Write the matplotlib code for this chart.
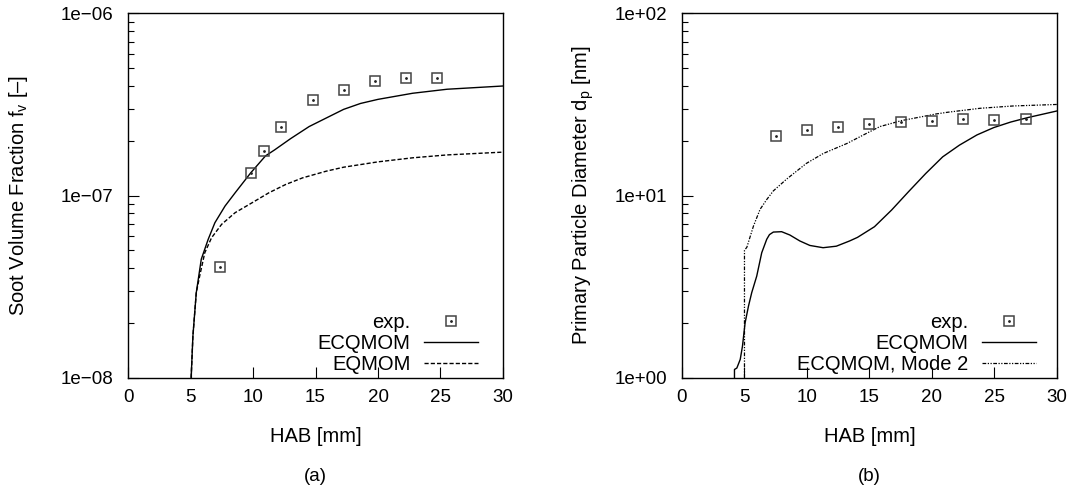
import matplotlib
matplotlib.use('Agg')
import matplotlib.pyplot as plt
from matplotlib.ticker import LogLocator, NullFormatter

plt.rcParams['font.family'] = ['Liberation Sans', 'DejaVu Sans']
plt.rcParams['mathtext.fontset'] = 'custom'
plt.rcParams['mathtext.rm'] = 'Liberation Sans'
plt.rcParams['mathtext.it'] = 'Liberation Sans'

# (a) soot volume fraction
exp_a_x = [7.37, 9.85, 10.87, 12.25, 14.79, 17.25, 19.76, 22.27, 24.76]
exp_a_y = [4.07e-8, 1.33e-7, 1.75e-7, 2.39e-7, 3.34e-7, 3.78e-7, 4.25e-7, 4.42e-7, 4.40e-7]

ecq_a_x = [5.05, 5.19, 5.46, 5.86, 6.41, 6.95, 7.76, 8.57, 9.81, 11.0, 11.73, 13.0, 14.49, 15.8, 17.25,
           18.6, 20.0, 22.77, 25.53, 30.0]
ecq_a_y = [1.0e-8, 1.69e-8, 2.93e-8, 4.47e-8, 5.74e-8, 7.09e-8, 8.75e-8, 1.035e-7, 1.33e-7, 1.65e-7, 1.78e-7,
           2.05e-7, 2.39e-7, 2.65e-7, 2.97e-7, 3.2e-7, 3.37e-7, 3.64e-7, 3.83e-7, 3.99e-7]

eq_a_x = [5.05, 5.19, 5.46, 5.73, 6.14, 6.68, 7.49, 8.57, 9.92, 11.27, 12.62, 13.97, 15.86, 17.25, 20.0,
          22.77, 25.53, 30.0]
eq_a_y = [1.0e-8, 1.69e-8, 2.93e-8, 3.61e-8, 4.85e-8, 5.86e-8, 6.95e-8, 8.05e-8, 9.12e-8, 1.035e-7, 1.15e-7,
          1.25e-7, 1.36e-7, 1.43e-7, 1.53e-7, 1.61e-7, 1.67e-7, 1.73e-7]

# (b) primary particle diameter
exp_b_x = [7.5, 10, 12.5, 15, 17.5, 20, 22.5, 25, 27.5]
exp_b_y = [21.3, 23.0, 23.7, 24.7, 25.4, 25.5, 26.3, 25.9, 26.4]

ecq_b_x = [4.2, 4.2, 4.39, 4.66, 4.84, 5.05, 5.32, 5.58, 5.98, 6.38, 6.78, 7.0, 7.31, 7.97, 8.63, 9.43,
           10.23, 11.29, 12.35, 13.41, 14.04, 15.4, 16.77, 18.13, 19.5, 20.86, 22.2, 23.6, 24.95, 26.3,
           27.7, 30.0]
ecq_b_y = [1.0, 1.11, 1.13, 1.26, 1.49, 2.0, 2.47, 2.93, 3.61, 4.85, 5.75, 6.1, 6.3, 6.33, 6.07, 5.63,
           5.32, 5.17, 5.27, 5.63, 5.89, 6.74, 8.32, 10.5, 13.2, 16.3, 18.9, 21.5, 23.6, 25.3,
           26.8, 29.1]

mode2_b_x = [5.0, 5.0, 5.19, 5.72, 6.25, 6.78, 7.31, 8.37, 9.95, 11.3, 13.2, 14.86, 15.84, 17.6, 18.5,
             20.3, 21.2, 23.84, 26.5, 30.0]
mode2_b_y = [1.0, 5.0, 5.2, 6.8, 8.4, 9.5, 10.6, 12.3, 15.0, 17.0, 19.3, 22.1, 23.9, 25.8, 26.5,
             28.0, 28.6, 30.1, 31.0, 31.6]

fig = plt.figure(figsize=(10.75, 4.94), dpi=100)
ax1 = fig.add_axes([0.1191, 0.2354, 0.3488, 0.7377])
ax2 = fig.add_axes([0.6344, 0.2354, 0.3488, 0.7377])

mk = dict(marker='s', ms=7, mfc='none', mec='#444444', mew=1.1, ls='none')
dot = dict(marker='.', ms=2.0, color='#222222', ls='none')


def style(ax, ylim, yticks, ylabels, ylabel, tag, ylab_x):
    ax.set_yscale('log')
    ax.set_xlim(0, 30)
    ax.set_ylim(*ylim)
    ax.set_xticks([0, 5, 10, 15, 20, 25, 30])
    ax.set_yticks(yticks)
    ax.set_yticklabels(ylabels)
    ax.yaxis.set_minor_locator(LogLocator(base=10, subs=range(2, 10)))
    ax.yaxis.set_minor_formatter(NullFormatter())
    ax.tick_params(axis='both', which='major', direction='in', length=8, width=0.8, labelsize=13.5,
                   top=False, right=False)
    ax.tick_params(axis='x', which='major', pad=8)
    ax.tick_params(axis='y', which='major', pad=10.5)
    ax.tick_params(axis='y', which='minor', direction='in', length=4, width=0.8, right=False)
    ax.set_xlabel('HAB [mm]', fontsize=14.5, labelpad=15)
    ax.set_ylabel(ylabel, fontsize=14.5)
    ax.yaxis.set_label_coords(ylab_x, 0.5)
    for s in ax.spines.values():
        s.set_linewidth(1.0)
    ax.text(0.5, -0.27, tag, transform=ax.transAxes, ha='center', va='center', fontsize=13.5)


leg = dict(loc='lower right', frameon=False, markerfirst=False, fontsize=14.5, handlelength=2.67,
           labelspacing=0.1, handletextpad=0.67, borderaxespad=0.0)

# panel (a)
l_ecq, = ax1.plot(ecq_a_x, ecq_a_y, color='black', lw=1.0)
l_eq, = ax1.plot(eq_a_x, eq_a_y, color='black', lw=1.0, ls=(0, (3, 1.5)))
p1, = ax1.plot(exp_a_x, exp_a_y, **mk)
d1, = ax1.plot(exp_a_x, exp_a_y, **dot)
style(ax1, (1e-8, 1e-6), [1e-8, 1e-7, 1e-6], ['1e\u221208', '1e\u221207', '1e\u221206'],
      'Soot Volume Fraction f$_\\mathregular{v}$ [\u2013]', '(a)', -0.262)
ax1.legend([(p1, d1), l_ecq, l_eq], ['exp.', 'ECQMOM', 'EQMOM'], bbox_to_anchor=(0.954, -0.013), **leg)

# panel (b)
l_ecq2, = ax2.plot(ecq_b_x, ecq_b_y, color='black', lw=1.0)
l_m2, = ax2.plot(mode2_b_x, mode2_b_y, color='black', lw=0.9, ls=(0, (3, 1.2, 1, 1.2, 1, 1.2)))
p2, = ax2.plot(exp_b_x, exp_b_y, **mk)
d2, = ax2.plot(exp_b_x, exp_b_y, **dot)
style(ax2, (1, 100), [1, 10, 100], ['1e+00', '1e+01', '1e+02'],
      'Primary Particle Diameter d$_\\mathregular{p}$ [nm]', '(b)', -0.229)
ax2.legend([(p2, d2), l_ecq2, l_m2], ['exp.', 'ECQMOM', 'ECQMOM, Mode 2'], bbox_to_anchor=(0.965, -0.013),
           **leg)

fig.savefig('out.png', dpi=100)
